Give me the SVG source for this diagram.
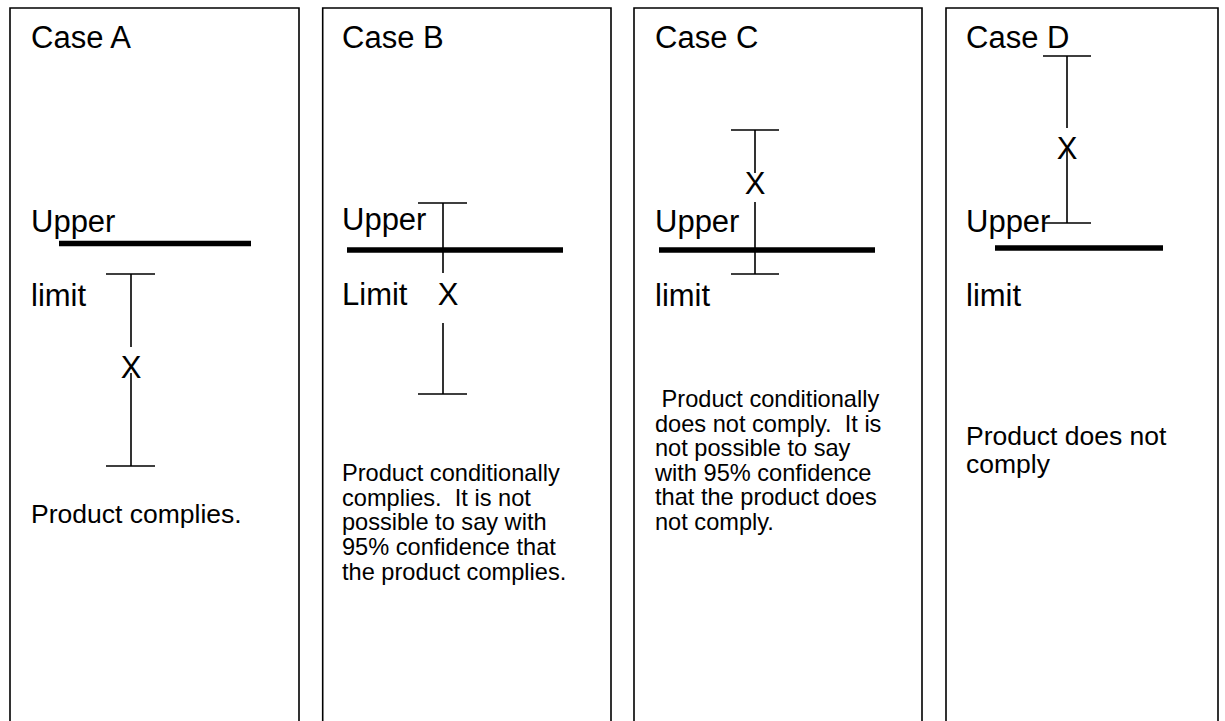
<svg xmlns="http://www.w3.org/2000/svg" width="1225" height="721" viewBox="0 0 1225 721">
<style>
.frame{fill:none;stroke:#000;stroke-width:1.6}
.lim{stroke:#000;stroke-width:5.5}
.bar{stroke:#000;stroke-width:1.6;fill:none}
.lbl{font-family:"Liberation Sans",Arial,sans-serif;font-size:31px;fill:#000}
.x{font-family:"Liberation Sans",Arial,sans-serif;font-size:31px;fill:#000;text-anchor:middle}
.big{font-family:"Liberation Sans",Arial,sans-serif;font-size:26.5px;fill:#000}
.sm{font-family:"Liberation Sans",Arial,sans-serif;font-size:23.6px;fill:#000;white-space:pre}
</style>
<rect width="1225" height="721" fill="#fff"/>
<g id="caseA">
<path class="frame" d="M10,721 V8 H299 V721"/>
<text class="lbl" x="31" y="48">Case A</text>
<text class="lbl" x="31" y="232">Upper</text>
<text class="lbl" x="31" y="306">limit</text>
<line class="lim" x1="59" y1="243.5" x2="251" y2="243.5"/>
<text class="x" x="131" y="378">X</text>
<path class="bar" d="M106,274 H155 M131,274 V347 M131,373 V466 M106,466 H155"/>
<text class="big" x="31" y="523">Product complies.</text>
</g>
<g id="caseB">
<path class="frame" d="M322.7,721 V8 H611 V721"/>
<text class="lbl" x="342" y="48">Case B</text>
<text class="lbl" x="342" y="230">Upper</text>
<text class="lbl" x="342" y="305">Limit</text>
<text class="x" x="448" y="305">X</text>
<line class="lim" x1="347" y1="250" x2="563" y2="250"/>
<path class="bar" d="M418,203 H467 M443,203 V273 M443,323 V394 M418,394 H467"/>
<text class="sm" x="342" y="481" xml:space="preserve">Product conditionally</text>
<text class="sm" x="342" y="506" xml:space="preserve">complies.  It is not</text>
<text class="sm" x="342" y="530" xml:space="preserve">possible to say with</text>
<text class="sm" x="342" y="555" xml:space="preserve">95% confidence that</text>
<text class="sm" x="342" y="580" xml:space="preserve">the product complies.</text>
</g>
<g id="caseC">
<path class="frame" d="M634,721 V8 H922 V721"/>
<text class="lbl" x="655" y="48">Case C</text>
<text class="lbl" x="655" y="232">Upper</text>
<text class="lbl" x="655" y="306">limit</text>
<text class="x" x="755" y="194">X</text>
<line class="lim" x1="659" y1="250" x2="875" y2="250"/>
<path class="bar" d="M731,130 H779 M755,130 V173 M755,202 V274 M731,274 H779"/>
<text class="sm" x="655" y="407" xml:space="preserve"> Product conditionally</text>
<text class="sm" x="655" y="432" xml:space="preserve">does not comply.  It is</text>
<text class="sm" x="655" y="456" xml:space="preserve">not possible to say</text>
<text class="sm" x="655" y="481" xml:space="preserve">with 95% confidence</text>
<text class="sm" x="655" y="505" xml:space="preserve">that the product does</text>
<text class="sm" x="655" y="530" xml:space="preserve">not comply.</text>
</g>
<g id="caseD">
<path class="frame" d="M946,721 V8 H1218 V721"/>
<text class="lbl" x="966" y="48">Case D</text>
<text class="lbl" x="966" y="232">Upper</text>
<text class="lbl" x="966" y="306">limit</text>
<text class="x" x="1067" y="159">X</text>
<line class="lim" x1="995" y1="248" x2="1163" y2="248"/>
<path class="bar" d="M1043,56 H1091 M1067,56 V128 M1067,150 V223 M1043,223 H1091"/>
<text class="big" x="966" y="445">Product does not</text>
<text class="big" x="966" y="473">comply</text>
</g>
<g id="connectors"/>
</svg>
